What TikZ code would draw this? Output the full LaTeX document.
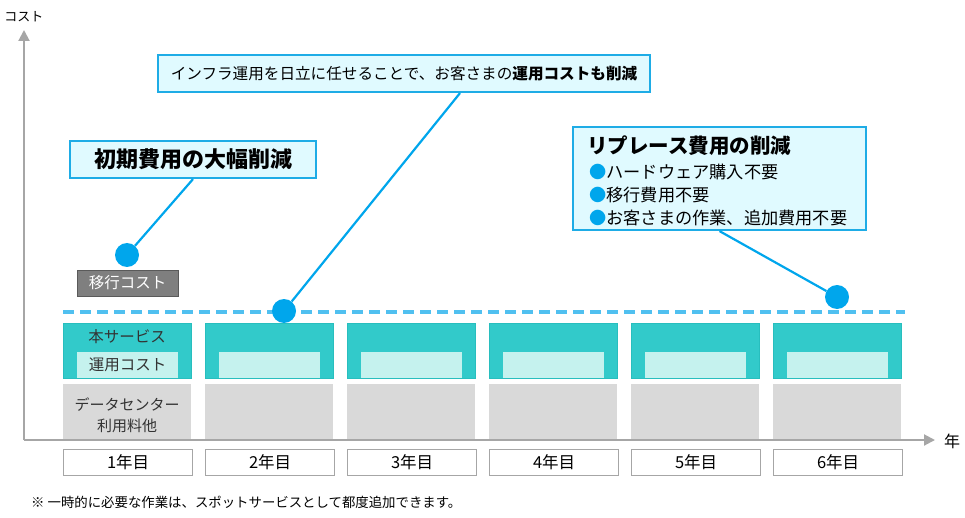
\documentclass[tikz,border=0pt]{standalone}
\usepackage{fontspec}
\setmainfont{Noto Sans CJK JP}
\usetikzlibrary{arrows.meta,calc}
\definecolor{tealc}{RGB}{50,202,202}
\definecolor{tealedge}{RGB}{40,190,190}
\definecolor{lteal}{RGB}{197,242,238}
\definecolor{boxgray}{RGB}{217,217,217}
\definecolor{axisgray}{RGB}{166,166,166}
\definecolor{darkgray}{RGB}{127,127,127}
\definecolor{darkedge}{RGB}{90,90,90}
\definecolor{callfill}{RGB}{224,250,255}
\definecolor{calledge}{RGB}{30,172,230}
\definecolor{dotblue}{RGB}{0,166,236}
\definecolor{dashblue}{RGB}{80,192,240}
\newcommand{\fs}[1]{\fontsize{#1}{#1}\selectfont}
\begin{document}
\begin{tikzpicture}[x=1pt,y=-1pt,
  tealbox/.style={fill=tealc,draw=tealedge,line width=0.6pt,inner sep=0},
  innerbox/.style={fill=lteal,draw=none,inner sep=0},
  graybox/.style={fill=boxgray,draw=none,inner sep=0},
  yearbox/.style={fill=white,draw=axisgray,line width=1.2pt,inner sep=0,font=\fs{16.5}},
  coltext/.style={font=\fs{15.5},text=black!80,inner sep=0},
  callout/.style={fill=callfill,draw=calledge,line width=2.2pt,inner sep=0},
  dotc/.style={circle,fill=dotblue,draw=none,minimum size=24,inner sep=0},
  leader/.style={draw=dotblue,line width=2.2pt},
  axis/.style={draw=axisgray,line width=2pt,-{Triangle[length=11pt,width=11pt]}}
]
\useasboundingbox (0,0) rectangle (965,518);
% columns
\foreach \i/\n in {0/1,1/2,2/3,3/4,4/5,5/6}{
  \pgfmathsetmacro\xl{63+142*\i}
  \node[tealbox,minimum width=128,minimum height=55,anchor=north west] (s\n) at (\xl,323) {};
  \node[innerbox,minimum width=101,minimum height=26,anchor=south west] (u\n) at (\xl+14,378) {};
  \node[graybox,minimum width=128,minimum height=56,anchor=north west] (g\n) at (\xl,384) {};
  \node[yearbox,minimum width=129,minimum height=26,anchor=north west] (y\n) at (\xl,449) {\n 年目};
}
\node[coltext] (t1) at (127,337) {本サービス};
\node[coltext] (t2) at (127.5,365) {運用コスト};
\node[coltext,font=\fs{15}] (t3) at (127,405) {データセンター};
\node[coltext,font=\fs{15}] (t4) at (127,426) {利用料他};
% migration cost
\node[fill=darkgray,draw=darkedge,line width=0.8pt,minimum width=101,minimum height=26,inner sep=0,text=white,font=\fs{15.5}] (mig) at (127.5,283) {移行コスト};
% axes
\coordinate (o) at (24,440);
\coordinate (ytop) at (24,30);
\coordinate (xend) at (935,440);
\draw[axis] (o) -- (ytop);
\draw[axis] (o) -- (xend);
\node[font=\fs{13},inner sep=0] (ylab) at (24,17) {コスト};
\node[font=\fs{16},inner sep=0] (xlab) at (952,441) {年};
% dashed line
\coordinate (da) at (63,312);
\coordinate (db) at (905,312);
\draw[dashblue,line width=4pt,dash pattern=on 11pt off 6pt] (da) -- (db);
% callouts
\node[callout,minimum width=246,minimum height=37,font=\fs{22}\bfseries] (c1) at (193,159.5) {初期費用の大幅削減};
\node[callout,minimum width=492,minimum height=37,font=\fs{15.6}] (c2) at (404,73.5) {インフラ運用を日立に任せることで、お客さまの\textbf{運用コストも削減}};
\node[callout,minimum width=293,minimum height=103] (c3) at (719.5,178.5) {};
\node[anchor=west,inner sep=0,font=\fs{20.5}\bfseries] (c3t) at (587,146) {リプレース費用の削減};
\node[anchor=west,inner sep=0,font=\fs{17.2}] (c3a) at (589,172) {\textcolor{dotblue}{●}ハードウェア購入不要};
\node[anchor=west,inner sep=0,font=\fs{17.2}] (c3b) at (589,195) {\textcolor{dotblue}{●}移行費用不要};
\node[anchor=west,inner sep=0,font=\fs{17.2}] (c3c) at (589,218) {\textcolor{dotblue}{●}お客さまの作業、追加費用不要};
% dots and leaders
\node[dotc] (d1) at (127,255) {};
\node[dotc] (d2) at (284,311) {};
\node[dotc] (d3) at (837,297) {};
\coordinate (c2a) at ($(c2.south)+(56,0)$);
\draw[leader] (d1) -- (c1.south);
\draw[leader] (d2) -- (c2a);
\draw[leader] (d3) -- (c3.south);
% footnote
\node[anchor=west,inner sep=0,font=\fs{13.4}] (note) at (31,502) {※ 一時的に必要な作業は、スポットサービスとして都度追加できます。};
\end{tikzpicture}
\end{document}
